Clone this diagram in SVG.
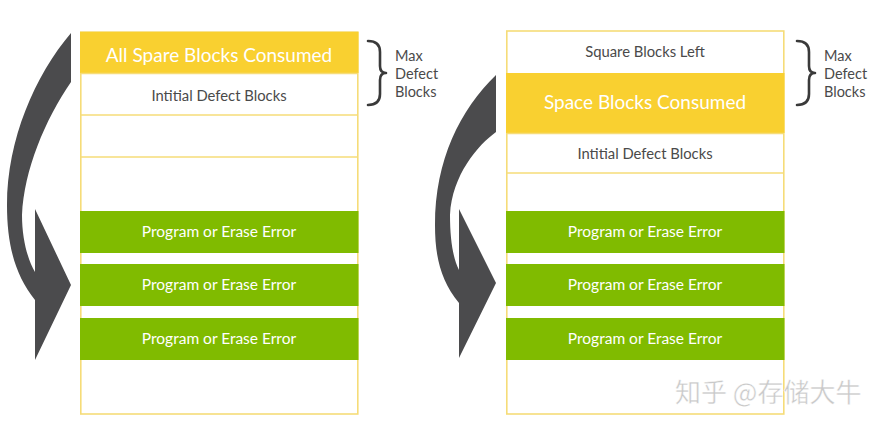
<svg xmlns="http://www.w3.org/2000/svg" width="890" height="428" viewBox="0 0 890 428">
<style>
.frame{fill:#ffffff;stroke:#f6dc78;stroke-width:1.6}
.sep{stroke:#f6dc78;stroke-width:1.6}
.yel{fill:#f9d030}
.grn{fill:#80bb00}
.t{font-family:Lato,"Open Sans",sans-serif;text-anchor:middle}
.wt{fill:#ffffff}
.gt{fill:#4a4a4a}
.big{font-size:19px}
.mid{font-size:15.5px}
.sml{font-size:14.8px}
.side{font-family:Lato,"Open Sans",sans-serif;font-size:14.5px;fill:#4a4a4a}
.brace{fill:none;stroke:#3a3a3a;stroke-width:2.6;stroke-linecap:round;stroke-linejoin:round}
.arrow{fill:#4b4b4d}
</style>
<rect width="890" height="428" fill="#ffffff"/>

<g id="left-stack">
  <rect class="frame" x="80.8" y="32" width="277" height="382"/>
  <line class="sep" x1="80.8" y1="115" x2="357.8" y2="115"/>
  <line class="sep" x1="80.8" y1="157" x2="357.8" y2="157"/>
</g>
<g id="left-spare-consumed">
  <rect class="yel" x="80" y="32" width="278.5" height="41"/>
  <text class="t wt big" x="219" y="62">All Spare Blocks Consumed</text>
</g>
<g id="left-initial-defect">
  <line class="sep" x1="80.8" y1="73.5" x2="357.8" y2="73.5"/>
  <text class="t gt sml" x="219" y="101">Intitial Defect Blocks</text>
</g>
<g id="left-error-1">
  <rect class="grn" x="80" y="211" width="278.5" height="42"/>
  <text class="t wt mid" x="219" y="237">Program or Erase Error</text>
</g>
<g id="left-error-2">
  <rect class="grn" x="80" y="264" width="278.5" height="42"/>
  <text class="t wt mid" x="219" y="290">Program or Erase Error</text>
</g>
<g id="left-error-3">
  <rect class="grn" x="80" y="318" width="278.5" height="42"/>
  <text class="t wt mid" x="219" y="344">Program or Erase Error</text>
</g>
<g id="left-max-defect">
  <path class="brace" d="M368,41 C376,41 380,45 380,52 L380,66 C380,70 382,73 386,73 C382,73 380,76 380,80 L380,94 C380,101 376,105 368,105"/>
  <text class="side" x="395" y="61">Max</text>
  <text class="side" x="395" y="79">Defect</text>
  <text class="side" x="395" y="97">Blocks</text>
</g>

<g id="right-stack">
  <rect class="frame" x="506.8" y="31" width="277" height="383"/>
  <line class="sep" x1="506.8" y1="173" x2="783.8" y2="173"/>
</g>
<g id="right-spare-left">
  <text class="t gt sml" x="645" y="57">Square Blocks Left</text>
</g>
<g id="right-spare-consumed">
  <rect class="yel" x="506" y="73" width="278.5" height="60"/>
  <text class="t wt big" x="645" y="109">Space Blocks Consumed</text>
</g>
<g id="right-initial-defect">
  <line class="sep" x1="506.8" y1="133.5" x2="783.8" y2="133.5"/>
  <text class="t gt sml" x="645" y="159">Intitial Defect Blocks</text>
</g>
<g id="right-error-1">
  <rect class="grn" x="506" y="211" width="278.5" height="42"/>
  <text class="t wt mid" x="645" y="237">Program or Erase Error</text>
</g>
<g id="right-error-2">
  <rect class="grn" x="506" y="264" width="278.5" height="42"/>
  <text class="t wt mid" x="645" y="290">Program or Erase Error</text>
</g>
<g id="right-error-3">
  <rect class="grn" x="506" y="318" width="278.5" height="42"/>
  <text class="t wt mid" x="645" y="344">Program or Erase Error</text>
</g>
<g id="right-max-defect">
  <path class="brace" d="M797,41 C805,41 809,45 809,52 L809,66 C809,70 811,73 815,73 C811,73 809,76 809,80 L809,94 C809,101 805,105 797,105"/>
  <text class="side" x="824" y="61">Max</text>
  <text class="side" x="824" y="79">Defect</text>
  <text class="side" x="824" y="97">Blocks</text>
</g>

<g id="connectors">
  <path class="arrow" d="M71,33 L71,82 C45,120 24,170 22,215 C22,240 28,260 35,272 L35,209 L71,285 L35,360 L35,300 C15,275 7,245 7,205 C7,140 35,75 71,33 Z"/>
  <path class="arrow" d="M496,75 L496,132 C478,145 452,175 450,215 C450,240 453,258 459,270 L459,209 L496,283 L459,358 L459,303 C440,280 435,255 435,225 C435,160 460,110 496,75 Z"/>
</g>

<text x="675" y="402" font-family="'Noto Sans CJK SC',sans-serif" font-size="26" fill="#c9c9c9" stroke="#ffffff" stroke-width="0.4">知乎 @存储大牛</text>
</svg>
